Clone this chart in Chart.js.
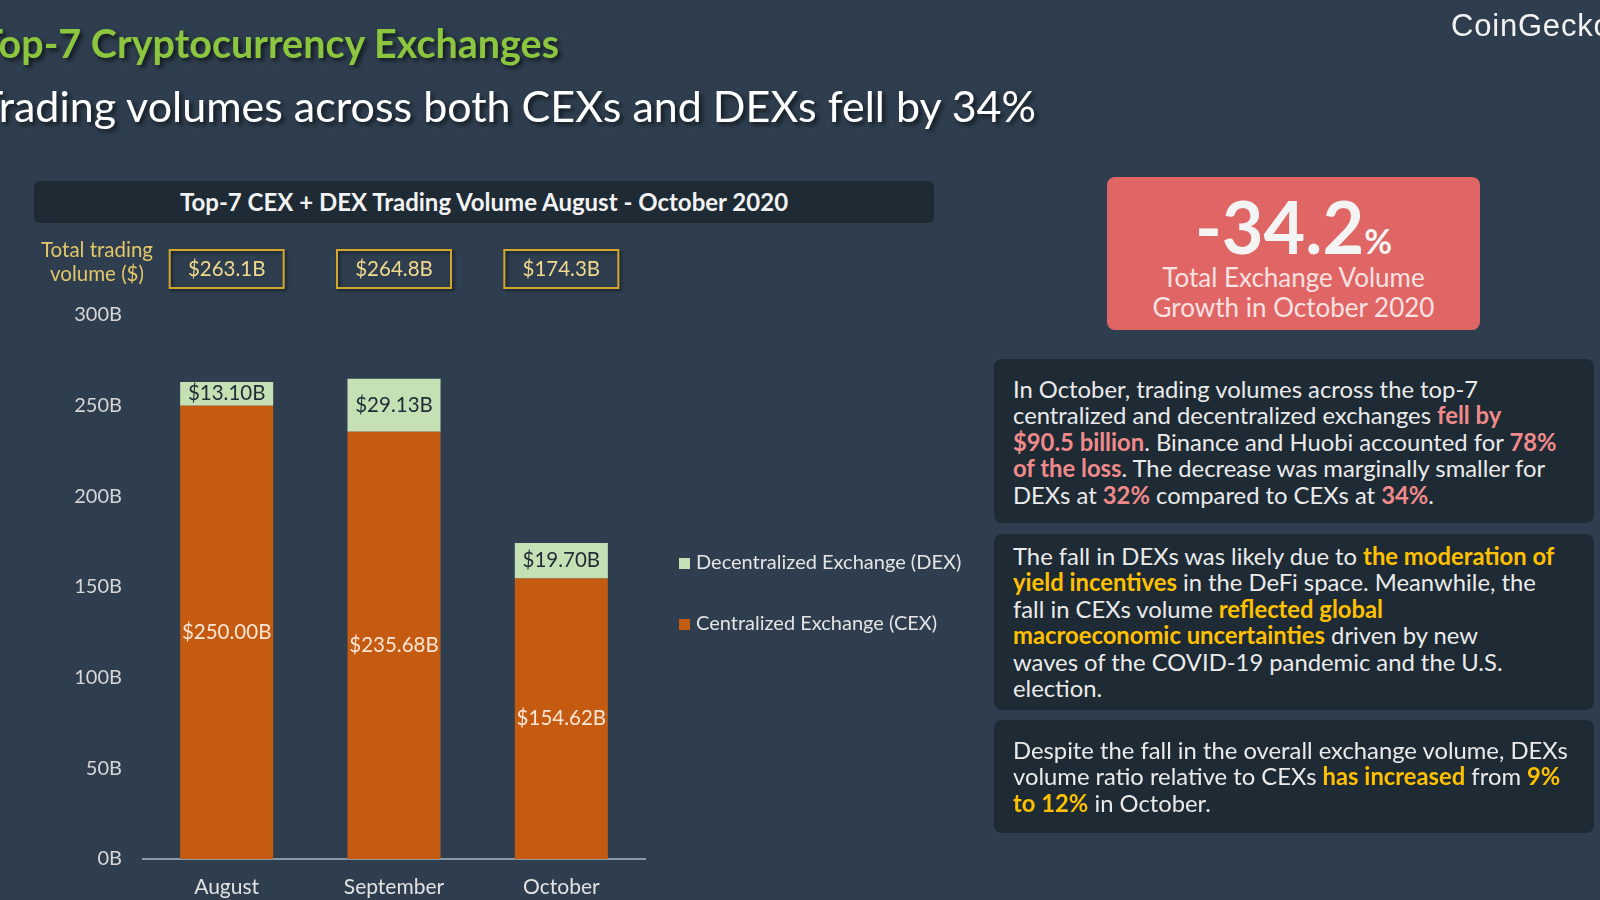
<!DOCTYPE html>
<html>
<head>
<meta charset="utf-8">
<script src="https://cdn.jsdelivr.net/npm/chart.js@4.4.0/dist/chart.umd.min.js"></script>
<style>
  html, body { margin: 0; padding: 0; }
  body {
    width: 1600px; height: 900px; overflow: hidden; position: relative;
    background: #2e3e4e; font-family: Lato, "Open Sans", sans-serif;
  }
  #canvasWrap { position: absolute; left: 0; top: 0; width: 1600px; height: 900px; }
  .abs { position: absolute; white-space: nowrap; }
  #title1 {
    right: 1041px; top: 19px; font-size: 39.5px; font-weight: 700; color: #8cc63f;
    text-shadow: 3px 3px 4px rgba(0,0,0,0.6);
  }
  #title2 {
    right: 564px; top: 80px; font-size: 43px; color: #ffffff;
    text-shadow: 3px 3px 4px rgba(0,0,0,0.6);
  }
  #logo { left: 1451px; top: 8px; font-family: "Liberation Sans", Arial, sans-serif; font-size: 31px; letter-spacing: 0.8px; color: #f2f2f2; }
  #chartHead {
    left: 34px; top: 181px; width: 900px; height: 42px; background: #1e2a34; border-radius: 6px;
    color: #f2f2f2; font-weight: 700; font-size: 24px; text-align: center; line-height: 42px;
  }
  #totLabel { left: 33px; top: 237px; width: 128px; text-align: center; color: #e3c66a; font-size: 20.5px; line-height: 24px; }
  #legend { left: 679px; top: 549px; color: #e4e4e4; font-size: 20px; }
  #legend div { height: 61px; }
  #legend span.sw { display: inline-block; width: 11px; height: 11px; margin-right: 6px; }
  #redBox {
    left: 1107px; top: 177px; width: 373px; height: 153px; background: #e06666; border-radius: 8px;
    text-align: center; color: #f9e2e2;
  }
  #bigNum { font-size: 72px; font-weight: 700; color: #f4f4f4; line-height: 42px; margin-top: 28px; }
  #bigNum small { font-size: 34px; }
  #redSub { font-size: 26px; line-height: 30px; }
  .panel {
    position: absolute; left: 994px; width: 600px; background: #1e2a34; border-radius: 8px;
    color: #ebebeb; font-size: 23.8px; line-height: 26.4px;
  }
  .panel .txt { position: absolute; left: 19px; white-space: nowrap; }
  .r { color: #f08a8a; font-weight: 700; }
  .y { color: #ffc000; font-weight: 700; }
</style>
</head>
<body>
<div id="canvasWrap"><canvas id="canvas" width="1600" height="900"></canvas></div>

<div class="abs" id="title1">Top-7 Cryptocurrency Exchanges</div>
<div class="abs" id="title2">Trading volumes across both CEXs and DEXs fell by 34%</div>
<div class="abs" id="logo">CoinGecko</div>

<div class="abs" id="chartHead">Top-7 CEX + DEX Trading Volume August - October 2020</div>
<div class="abs" id="totLabel">Total trading<br>volume ($)</div>
<div class="abs" id="legend"></div>

<div class="abs" id="redBox">
  <div id="bigNum">-34.2<small>%</small></div>
  <div id="redSub">Total Exchange Volume<br>Growth in October 2020</div>
</div>

<div class="panel" style="top:359px;height:164px;">
  <div class="txt" style="top:17px;">In October, trading volumes across the top-7<br>centralized and decentralized exchanges <span class="r">fell by</span><br><span class="r">$90.5 billion</span>. Binance and Huobi accounted for <span class="r">78%</span><br><span class="r">of the loss</span>. The decrease was marginally smaller for<br>DEXs at <span class="r">32%</span> compared to CEXs at <span class="r">34%</span>.</div>
</div>
<div class="panel" style="top:534px;height:176px;">
  <div class="txt" style="top:9px;">The fall in DEXs was likely due to <span class="y">the moderation of</span><br><span class="y">yield incentives</span> in the DeFi space. Meanwhile, the<br>fall in CEXs volume <span class="y">reflected global</span><br><span class="y">macroeconomic uncertainties</span> driven by new<br>waves of the COVID-19 pandemic and the U.S.<br>election.</div>
</div>
<div class="panel" style="top:720px;height:113px;">
  <div class="txt" style="top:17px;">Despite the fall in the overall exchange volume, DEXs<br>volume ratio relative to CEXs <span class="y">has increased</span> from <span class="y">9%</span><br><span class="y">to 12%</span> in October.</div>
</div>

<script>
// months and volumes in billions of USD
var months = ["August", "September", "October"];
var cexVolume = [250.00, 235.68, 154.62];
var dexVolume = [13.10, 29.13, 19.70];
var yTicks = [0, 50, 100, 150, 200, 250, 300];

var cexColor = "#c55a11";
var dexColor = "#c5e0b4";

// legend (DEX listed first like the original)
var legendItems = [
  { label: "Decentralized Exchange (DEX)", color: dexColor },
  { label: "Centralized Exchange (CEX)", color: cexColor },
];
var legendEl = document.getElementById("legend");
legendItems.forEach(function (item) {
  var row = document.createElement("div");
  row.innerHTML = '<span class="sw" style="background:' + item.color + '"></span>' + item.label;
  legendEl.appendChild(row);
});

// value labels inside each segment + total boxes above the bars
const labelPlugin = {
  id: "labels",
  afterDatasetsDraw(chart) {
    const ctx = chart.ctx;
    ctx.save();
    ctx.font = "20.5px Lato";
    ctx.textAlign = "center";
    ctx.textBaseline = "middle";
    chart.data.datasets.forEach((ds, i) => {
      const meta = chart.getDatasetMeta(i);
      meta.data.forEach((bar, j) => {
        const mid = (bar.y + bar.base) / 2;
        ctx.fillStyle = i === 0 ? "#fbe6d6" : "#1f2b35";
        ctx.fillText("$" + ds.data[j].toFixed(2) + "B", bar.x, mid);
      });
    });

    // totals
    const xs = chart.scales.x;
    months.forEach((m, j) => {
      const total = cexVolume[j] + dexVolume[j];
      const cx = xs.getPixelForValue(j);
      ctx.shadowColor = "rgba(0,0,0,0.5)";
      ctx.shadowOffsetX = 2;
      ctx.shadowOffsetY = 2;
      ctx.shadowBlur = 3;
      ctx.strokeStyle = "#d4a72c";
      ctx.lineWidth = 2;
      ctx.strokeRect(cx - 57, 250, 114, 38);
      ctx.shadowColor = "transparent";
      ctx.fillStyle = "#f1d98e";
      ctx.font = "20.5px Lato";
      ctx.fillText("$" + total.toFixed(1) + "B", cx, 269);
    });
    ctx.restore();
  },
};

const ctx = document.getElementById("canvas").getContext("2d");
const myChart = new Chart(ctx, {
  type: "bar",
  data: {
    labels: months,
    datasets: [
      {
        label: "Centralized Exchange (CEX)",
        data: cexVolume,
        backgroundColor: cexColor,
        barPercentage: 0.556,
        categoryPercentage: 1,
      },
      {
        label: "Decentralized Exchange (DEX)",
        data: dexVolume,
        backgroundColor: dexColor,
        barPercentage: 0.556,
        categoryPercentage: 1,
      },
    ],
  },
  options: {
    responsive: false,
    animation: false,
    layout: { padding: { left: 0, top: 315, right: 955, bottom: 0 } },
    plugins: { legend: { display: false }, tooltip: { enabled: false } },
    scales: {
      x: {
        stacked: true,
        afterFit: function (s) { s.height = 41; },
        grid: { display: false, drawTicks: false },
        border: { display: true, color: "#8a9aa8", width: 2 },
        ticks: { color: "#e2e2e2", font: { family: "Lato", size: 21 }, padding: 16 },
      },
      y: {
        stacked: true,
        min: 0,
        max: 300,
        afterFit: function (s) { s.width = 143; },
        afterBuildTicks: function (s) { s.ticks = yTicks.map(function (v) { return { value: v }; }); },
        grid: { display: false, drawTicks: false },
        border: { display: false },
        ticks: {
          color: "#d6d6d6",
          font: { family: "Lato", size: 20 },
          padding: 21,
          callback: function (v) { return v + "B"; },
        },
      },
    },
  },
  plugins: [labelPlugin],
});
</script>
</body>
</html>
